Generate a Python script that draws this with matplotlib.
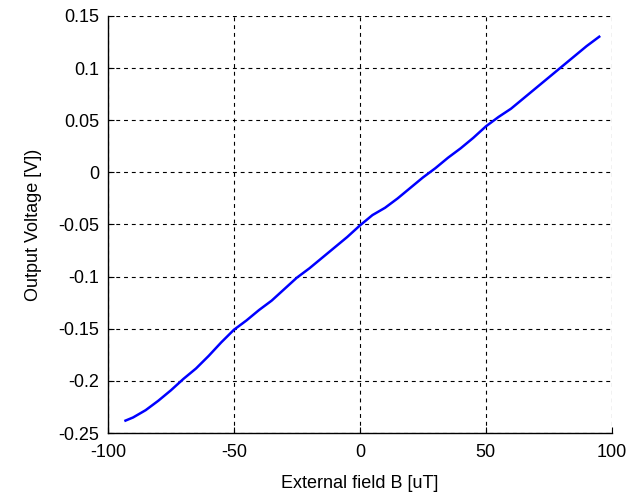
import matplotlib
matplotlib.use("Agg")
import matplotlib.pyplot as plt

# Ölçüm verisi (resimden okunan yaklaşık değerler)
field_ut = [-93, -90, -85, -80, -75, -70, -65, -60, -55, -50, -45, -40, -35,
            -30, -25, -20, -15, -10, -5, 0, 5, 10, 15, 20, 25, 30, 35, 40,
            45, 50, 55, 60, 65, 70, 75, 80, 85, 90, 95]
voltage_v = [-0.238, -0.235, -0.228, -0.219, -0.209, -0.198, -0.188, -0.176,
             -0.163, -0.151, -0.142, -0.132, -0.123, -0.112, -0.101, -0.092,
             -0.082, -0.072, -0.062, -0.051, -0.041, -0.034, -0.025, -0.015,
             -0.005, 0.004, 0.014, 0.023, 0.033, 0.044, 0.053, 0.061, 0.071,
             0.081, 0.091, 0.101, 0.111, 0.121, 0.130]

x_ticks = [-100, -50, 0, 50, 100]
y_ticks = [-0.25, -0.2, -0.15, -0.1, -0.05, 0, 0.05, 0.1, 0.15]

plt.rcParams['font.family'] = ['Liberation Sans', 'DejaVu Sans']
plt.rcParams['axes.unicode_minus'] = False

fig = plt.figure(figsize=(6.42, 4.95), dpi=100)
ax = fig.add_axes([0.168, 0.125, 0.785, 0.843])

ax.plot(field_ut, voltage_v, color=(0, 0, 1), linewidth=1.8)

ax.set_xlim(-100, 100)
ax.set_ylim(-0.25, 0.15)
ax.set_xticks(x_ticks)
ax.set_yticks(y_ticks)
ax.set_xticklabels(['%g' % t for t in x_ticks])
ax.set_yticklabels(['%g' % t for t in y_ticks])

# MATLAB tarzı kesikli ızgara
ax.grid(True, color='black', linestyle=(0, (3.5, 3.5)), linewidth=0.8)
ax.spines['top'].set_visible(False)
ax.spines['right'].set_visible(False)
for s in ('left', 'bottom'):
    ax.spines[s].set_linewidth(1.0)
ax.tick_params(direction='in', length=4, labelsize=13, colors='black')
ax.tick_params(axis='y', pad=6)
ax.tick_params(axis='x', pad=8)

ax.set_xlabel('External field B [uT]', fontsize=13, labelpad=10)
ax.set_ylabel('Output Voltage [V])', fontsize=13, labelpad=12)

fig.savefig('out.png', dpi=100)
